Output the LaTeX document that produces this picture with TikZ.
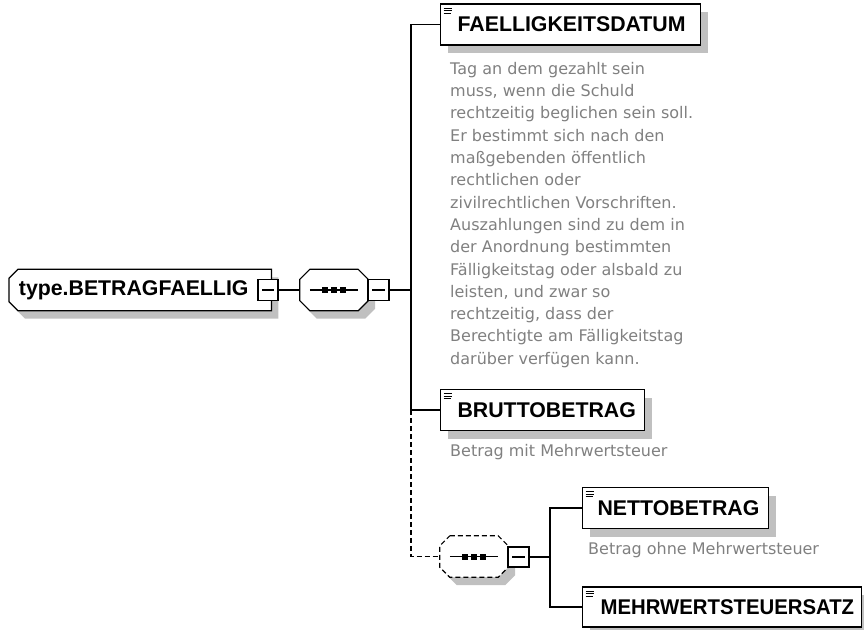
\documentclass[tikz,border=0pt]{standalone}
\usepackage{fontspec}
\setmainfont{Liberation Sans}
\newfontfamily\descfont{DejaVu Sans}
\usetikzlibrary{shadows}
\definecolor{shadowgray}{RGB}{192,192,192}
\definecolor{desctext}{RGB}{128,128,128}
\pgfdeclarelayer{shadowlayer}
\pgfdeclarelayer{shapelayer}
\pgfsetlayers{shadowlayer,shapelayer,main}
\newcommand\chamfpath[3]{([xshift=#2]#1.north west) -- ([xshift=-#3]#1.north east) -- ([yshift=-#3]#1.north east) -- ([yshift=#3]#1.south east) -- ([xshift=-#3]#1.south east) -- ([xshift=#2]#1.south west) -- ([yshift=#2]#1.south west) -- ([yshift=-#2]#1.north west) -- cycle}
\begin{document}
\begin{tikzpicture}[x=1pt,y=-1pt,
  lw/.style={line width=1.2pt},
  conn/.style={lw},
  dconn/.style={lw,dash pattern=on 5pt off 3pt},
  shadowfill/.style={fill=shadowgray,draw=none,transform canvas={shift={(7pt,-8pt)}}},
  shapefill/.style={draw,lw,fill=white},
  boxshadow/.style={drop shadow={shadow xshift=7pt,shadow yshift=-8pt,fill=shadowgray,opacity=1,draw=none}},
  labelfont/.style={font=\fontsize{21.3}{24}\selectfont\bfseries},
  elem/.style={rectangle,draw,lw,fill=white,boxshadow,inner xsep=0pt,inner ysep=0pt,
    minimum height=41pt,text width=#1pt,align=left,labelfont,anchor=west,
    path picture={
      \draw[line width=1pt,solid] ([xshift=3pt,yshift=-4pt]path picture bounding box.north west) -- ++(8pt,0pt);
      \draw[line width=1pt,solid] ([xshift=3pt,yshift=-6.5pt]path picture bounding box.north west) -- ++(8pt,0pt);
      \draw[line width=1pt,solid] ([xshift=3pt,yshift=-9pt]path picture bounding box.north west) -- ++(7pt,0pt);
    }},
  rootbox/.style={rectangle,inner sep=0pt,minimum width=262pt,minimum height=41pt,labelfont,anchor=west},
  seqbox/.style={rectangle,inner sep=0pt,minimum width=68pt,minimum height=41pt},
  minusbox/.style={rectangle,draw,lw,fill=white,inner sep=0pt,minimum width=20pt,minimum height=21pt,
    path picture={\draw[lw,solid] ([xshift=4pt]path picture bounding box.west) -- ([xshift=-4pt]path picture bounding box.east);}},
  desc/.style={font=\descfont\fontsize{16}{22.3}\selectfont,text=desctext,inner sep=0pt,align=left}
]
\useasboundingbox (0,0) rectangle (864,629);

% root
\node[rootbox] (root) at (9,290) {\mbox{type.BETRAGFAELLIG}\hspace*{13pt}};
\begin{pgfonlayer}{shadowlayer}
  \fill[shadowfill] \chamfpath{root}{9pt}{0pt};
\end{pgfonlayer}
\begin{pgfonlayer}{shapelayer}
  \draw[shapefill] \chamfpath{root}{9pt}{0pt};
\end{pgfonlayer}
\node[minusbox] (rminus) at (268,290) {};

% sequence
\node[seqbox] (seq) at (334,290) {};
\begin{pgfonlayer}{shadowlayer}
  \fill[shadowfill] \chamfpath{seq}{10pt}{10pt};
\end{pgfonlayer}
\begin{pgfonlayer}{shapelayer}
  \draw[shapefill] \chamfpath{seq}{10pt}{10pt};
  \draw[lw] ([xshift=10pt]seq.west) -- ([xshift=-10pt]seq.east);
  \foreach \dx in {-9,0,9}{\fill[black] ([xshift=\dx pt-3pt,yshift=-3pt]seq.center) rectangle ++(6pt,6pt) ;}
\end{pgfonlayer}
\node[minusbox,minimum width=21pt] (seqm) at (378.5,290) {};

\coordinate (j1) at (411,290);

% elements
\node[elem=260] (f1) at (440,24.5) {\hspace*{17pt}\mbox{FAELLIGKEITSDATUM}};
\node[desc,anchor=north west] (d1) at (450,62) {Tag an dem gezahlt sein\\muss, wenn die Schuld\\rechtzeitig beglichen sein soll.\\Er bestimmt sich nach den\\maßgebenden öffentlich\\rechtlichen oder\\zivilrechtlichen Vorschriften.\\Auszahlungen sind zu dem in\\der Anordnung bestimmten\\Fälligkeitstag oder alsbald zu\\leisten, und zwar so\\rechtzeitig, dass der\\Berechtigte am Fälligkeitstag\\darüber verfügen kann.};

\node[elem=204] (b1) at (440,410) {\hspace*{17pt}\mbox{BRUTTOBETRAG}};
\node[desc,anchor=west] (d2) at (450,452) {Betrag mit Mehrwertsteuer};

% optional sequence
\node[seqbox] (seq2) at (474,556.5) {};
\begin{pgfonlayer}{shadowlayer}
  \fill[shadowfill] \chamfpath{seq2}{10pt}{10pt};
\end{pgfonlayer}
\begin{pgfonlayer}{shapelayer}
  \draw[shapefill,dash pattern=on 5pt off 3pt] \chamfpath{seq2}{10pt}{10pt};
  \draw[lw] ([xshift=10pt]seq2.west) -- ([xshift=-10pt]seq2.east);
  \foreach \dx in {-9,0,9}{\fill[black] ([xshift=\dx pt-3pt,yshift=-3pt]seq2.center) rectangle ++(6pt,6pt) ;}
\end{pgfonlayer}
\node[minusbox,minimum width=21pt,minimum height=20pt] (seq2m) at (518.5,557) {};
\coordinate (j2) at (550,557);

\node[elem=186] (n1) at (582,508) {\hspace*{15pt}\mbox{NETTOBETRAG}};
\node[desc,anchor=west] (d3) at (588,550) {Betrag ohne Mehrwertsteuer};
\node[elem=279,minimum height=40pt] (m1) at (582,607) {\hspace*{18pt}\scalebox{0.955}[1]{MEHRWERTSTEUERSATZ}};

% connectors
\draw[conn] (rminus.east) -- (seq.west);
\draw[conn] (seqm.east) -- (j1);
\draw[conn] (j1) |- (f1.west);
\draw[conn] (j1) |- (b1.west);
\draw[dconn] (b1.west -| j1) |- (seq2.west);
\draw[conn] (seq2m.east) -- (j2);
\draw[conn] (j2) |- (n1.west);
\draw[conn] (j2) |- (m1.west);
\end{tikzpicture}
\end{document}
